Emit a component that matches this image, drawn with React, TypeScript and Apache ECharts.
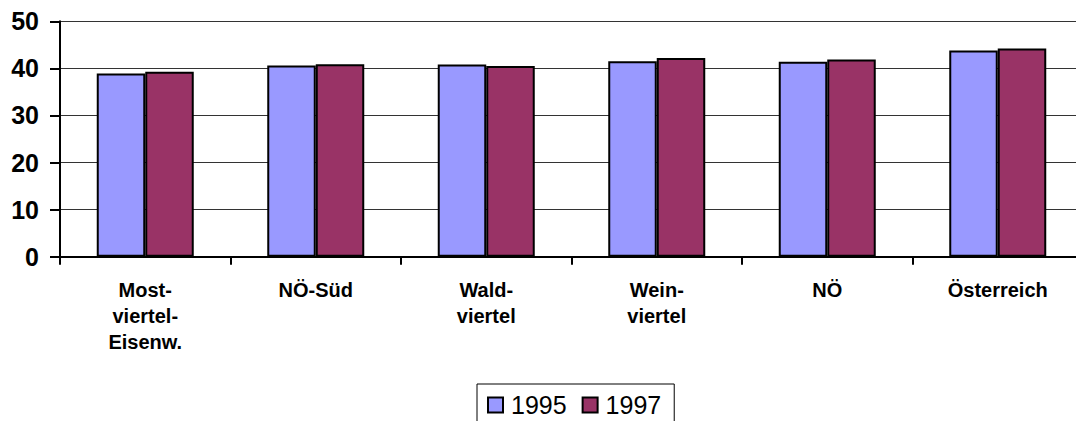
import React, { useEffect, useRef } from "react";
import * as echarts from "echarts";

const categories = [
  "Most-\nviertel-\nEisenw.",
  "NÖ-Süd",
  "Wald-\nviertel",
  "Wein-\nviertel",
  "NÖ",
  "Österreich",
];
const values1995 = [38.9, 40.6, 40.8, 41.5, 41.4, 43.8];
const values1997 = [39.3, 40.9, 40.5, 42.2, 41.9, 44.2];
const seriesNames = ["1995", "1997"];
const yMin = 0;
const yMax = 50;
const yInterval = 10;

const FONT = "'Liberation Sans', Arial, sans-serif";

export default function App() {
  const ref = useRef<HTMLDivElement>(null);
  useEffect(() => {
    document.body.style.margin = "0";
    const chart = echarts.init(ref.current!, null, { renderer: "svg" });
    chart.setOption({
      animation: false,
      backgroundColor: "#ffffff",
      textStyle: { fontFamily: FONT },
      grid: {
        left: 60,
        top: 21.3,
        width: 1023,
        height: 235.4,
        outerBoundsMode: "none",
      },
      legend: {
        data: seriesNames,
        left: 477,
        top: 384,
        padding: [6, 13, 6, 10],
        borderColor: "#000",
        borderWidth: 1,
        itemWidth: 15,
        itemHeight: 15,
        itemGap: 15,
        icon: "rect",
        textStyle: {
          fontFamily: FONT,
          fontSize: 25,
          color: "#000",
          lineHeight: 30,
          padding: [0, 0, 0, 3],
        },
        itemStyle: { borderColor: "#000", borderWidth: 2 },
      },
      xAxis: {
        type: "category",
        data: categories,
        boundaryGap: true,
        axisLine: { lineStyle: { color: "#000", width: 2 } },
        axisTick: {
          show: true,
          alignWithLabel: false,
          length: 8,
          lineStyle: { color: "#000", width: 2 },
        },
        axisLabel: {
          interval: 0,
          margin: 20,
          color: "#000",
          fontFamily: FONT,
          fontWeight: "bold",
          fontSize: 20,
          lineHeight: 26,
        },
      },
      yAxis: {
        type: "value",
        min: yMin,
        max: yMax,
        interval: yInterval,
        axisLine: { show: true, lineStyle: { color: "#000", width: 2 } },
        axisTick: {
          show: true,
          length: 10,
          lineStyle: { color: "#000", width: 2 },
        },
        axisLabel: {
          margin: 21,
          color: "#000",
          fontFamily: FONT,
          fontWeight: "bold",
          fontSize: 25,
        },
        splitLine: { show: true, lineStyle: { color: "#333", width: 1 } },
      },
      series: [
        {
          name: seriesNames[0],
          type: "bar",
          data: values1995,
          barWidth: 48.5,
          barGap: "0%",
          itemStyle: { color: "#9999FF", borderColor: "#000", borderWidth: 2 },
        },
        {
          name: seriesNames[1],
          type: "bar",
          data: values1997,
          barWidth: 48.5,
          barGap: "0%",
          itemStyle: { color: "#993366", borderColor: "#000", borderWidth: 2 },
        },
      ],
    });
    return () => chart.dispose();
  }, []);
  return <div ref={ref} style={{ width: 1076, height: 421 }} />;
}
